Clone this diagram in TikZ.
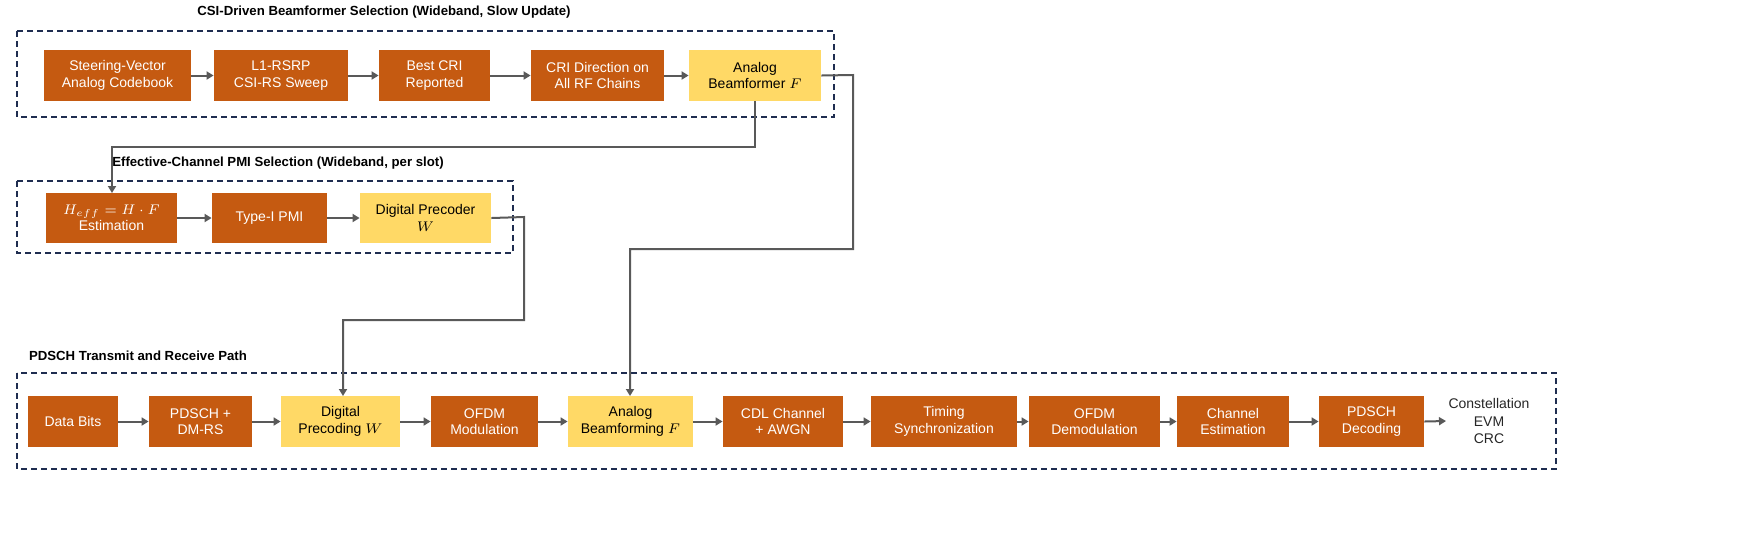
\documentclass[tikz,border=0pt]{standalone}
\usepackage{fontspec}
\setmainfont{Liberation Sans}
\usetikzlibrary{arrows.meta}
\definecolor{org}{HTML}{C55A11}
\definecolor{yel}{HTML}{FFD966}
\definecolor{nav}{HTML}{1F2D50}
\definecolor{arr}{HTML}{595959}
\begin{document}
\begin{tikzpicture}[x=0.5pt,y=-0.5pt,
  grp/.style={draw=nav,line width=0.75pt,dash pattern=on 3pt off 2pt},
  ob/.style={fill=org,text=white,align=center,font=\fontsize{7}{8.2}\selectfont,inner sep=0pt},
  yb/.style={fill=yel,text=black,align=center,font=\fontsize{7}{8.2}\selectfont,inner sep=0pt},
  ttl/.style={font=\bfseries\fontsize{6.6}{8}\selectfont},
  ar/.style={draw=arr,line width=1pt,-{Triangle[length=3.5pt,width=4pt]}}]
\useasboundingbox (0,0) rectangle (1749,538);
\newcommand{\bx}[7]{\node[#1,minimum width=(#4-#3)*0.5pt,minimum height=(#6-#5)*0.5pt] (#2) at ({(#3+#4)/2},{(#5+#6)/2}) {#7};}
% groups
\node[ttl] (t1) at (384,12) {CSI-Driven Beamformer Selection (Wideband, Slow Update)};
\draw[grp] (17,31) rectangle (834,117);
\node[ttl] (t2) at (278,163) {Effective-Channel PMI Selection (Wideband, per slot)};
\draw[grp] (17,181) rectangle (513,253);
\node[ttl,anchor=west] (t3) at (22,356) {PDSCH Transmit and Receive Path};
\draw[grp] (17,373) rectangle (1556,469);
% row 1
\bx{ob}{a1}{44}{191}{50}{101}{Steering-Vector\\Analog Codebook}
\bx{ob}{a2}{214}{348}{50}{101}{L1-RSRP\\CSI-RS Sweep}
\bx{ob}{a3}{379}{490}{50}{101}{Best CRI\\Reported}
\bx{ob}{a4}{531}{664}{50}{101}{CRI Direction on\\All RF Chains}
\bx{yb}{a5}{689}{821}{50}{101}{Analog\\Beamformer $F$}
% row 2
\bx{ob}{b1}{46}{177}{193}{243}{$H_{eff}=H\cdot F$\\Estimation}
\bx{ob}{b2}{212}{327}{193}{243}{Type-I PMI}
\bx{yb}{b3}{360}{491}{193}{243}{Digital Precoder\\$W$}
% row 3
\bx{ob}{c1}{28}{118}{396}{447}{Data Bits}
\bx{ob}{c2}{149}{252}{396}{447}{PDSCH +\\DM-RS}
\bx{yb}{c3}{281}{400}{396}{447}{Digital\\Precoding $W$}
\bx{ob}{c4}{431}{538}{396}{447}{OFDM\\Modulation}
\bx{yb}{c5}{568}{693}{396}{447}{Analog\\Beamforming $F$}
\bx{ob}{c6}{723}{843}{396}{447}{CDL Channel\\+ AWGN}
\bx{ob}{c7}{871}{1017}{396}{447}{Timing\\Synchronization}
\bx{ob}{c8}{1029}{1160}{396}{447}{OFDM\\Demodulation}
\bx{ob}{c9}{1177}{1289}{396}{447}{Channel\\Estimation}
\bx{ob}{c10}{1319}{1424}{396}{447}{PDSCH\\Decoding}
\node[align=center,text=black!85,font=\fontsize{7}{8.6}\selectfont] (out) at (1489,421) {Constellation\\EVM\\CRC};
% arrows
\foreach \u/\v in {a1/a2,a2/a3,a3/a4,a4/a5,b1/b2,b2/b3,c1/c2,c2/c3,c3/c4,c4/c5,c5/c6,c6/c7,c7/c8,c8/c9,c9/c10}
  \draw[ar] (\u) -- (\v);
\draw[ar] (c10.east) -- (1446,421);
\draw[ar] (755,101) -- (755,147) -- (112,147) -- (112,193);
\draw[ar] (a5.east) -- (853,75) -- (853,249) -- (630,249) -- (630,396);
\draw[ar] (b3.east) -- (524,217) -- (524,320) -- (343,320) -- (343,396);
\end{tikzpicture}
\end{document}
